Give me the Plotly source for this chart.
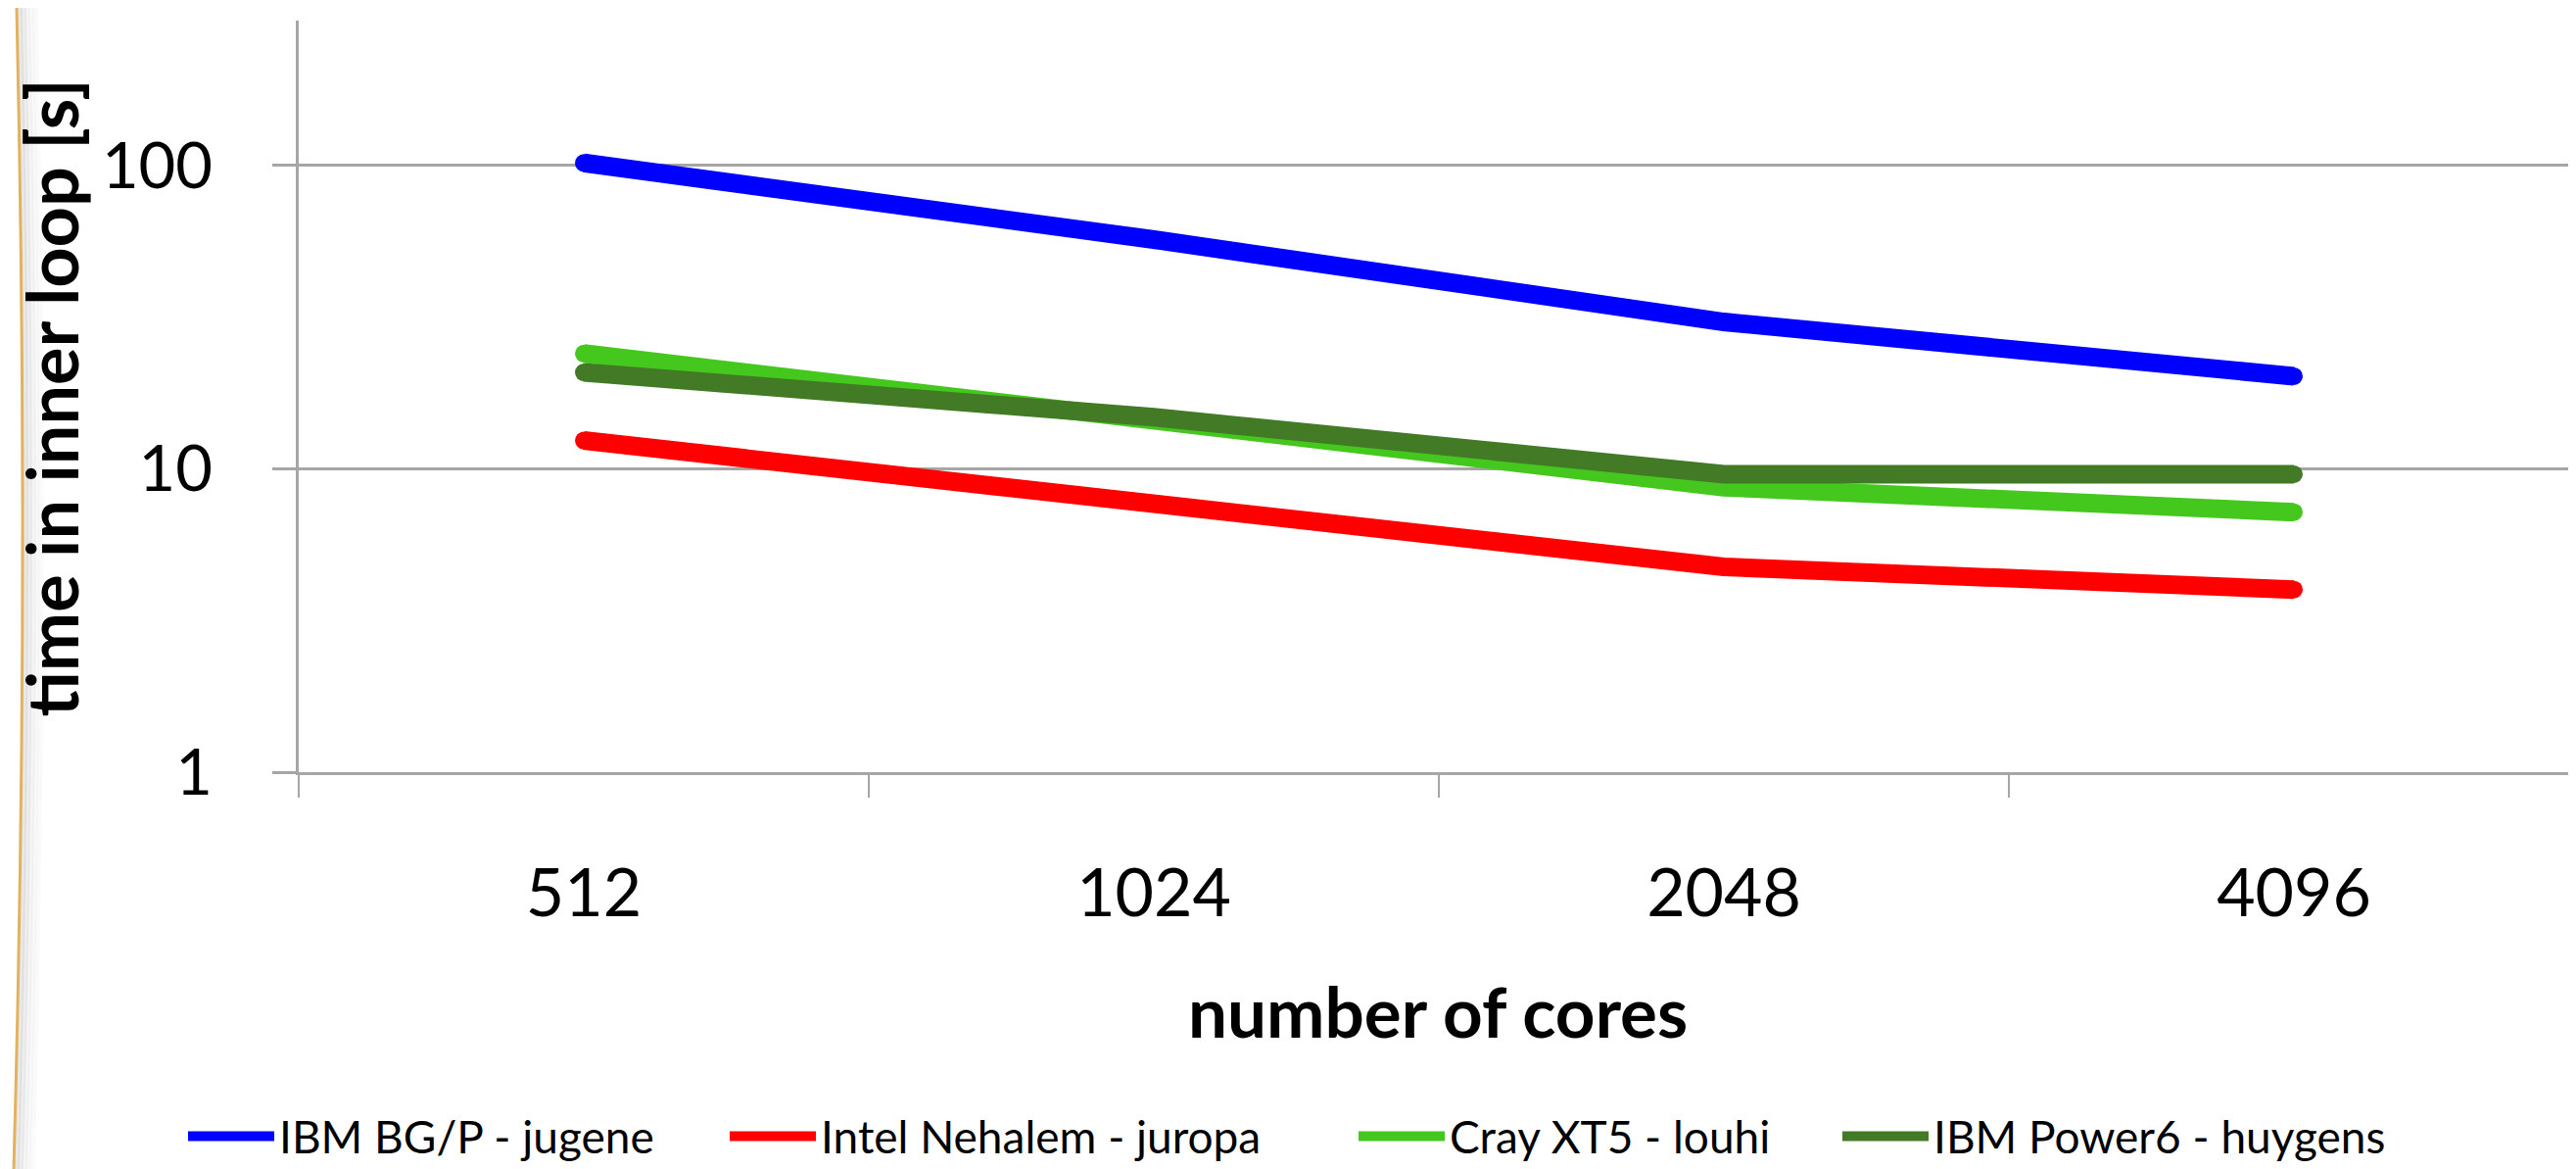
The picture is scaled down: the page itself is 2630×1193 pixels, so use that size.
import plotly.graph_objects as go

# ---- data ----
cores = ["512", "1024", "2048", "4096"]
series_names = ["IBM BG/P - jugene", "Intel Nehalem - juropa", "Cray XT5 - louhi", "IBM Power6 - huygens"]
jugene = [102.0, 57.0, 30.5, 20.2]
juropa = [12.4, 7.8, 4.75, 4.0]
louhi = [24.0, 14.3, 8.7, 7.2]
huygens = [20.8, 14.8, 9.6, 9.6]
y_ticks = [1, 10, 100]

colors = ["#0000FF", "#FF0000", "#44C81D", "#427A26"]
values = [jugene, juropa, louhi, huygens]

W, H = 2630, 1193
L, R, T, B = 297, 2625, 13, 785
PW, PH = R - L, B - T


def px(x):
    return (x - L) / PW


def py(y):
    return (B - y) / PH


FONT = "Lato, 'Open Sans', sans-serif"
LW = 19
legend_ids = ["legend", "legend2", "legend3", "legend4"]
legend_starts = [191, 744, 1386, 1880]   # pixel x where each legend sample begins

fig = go.Figure()
for name, vals, col, lid in zip(series_names, values, colors, legend_ids):
    fig.add_trace(go.Scatter(
        x=cores, y=vals, mode="lines", name=name, legendgroup=name, legend=lid,
        line=dict(color=col, width=LW),
    ))
    # round caps at the ends of each line
    fig.add_trace(go.Scatter(
        x=[cores[0], cores[-1]], y=[vals[0], vals[-1]], mode="markers", name=name,
        legendgroup=name, showlegend=False,
        marker=dict(color=col, size=LW - 1, line=dict(width=0)), hoverinfo="skip",
    ))

grid_col = "#A6A6A6"
fig.update_xaxes(
    type="category", range=[-0.5, 3.5],
    showline=True, linecolor=grid_col, linewidth=3,
    showgrid=False, zeroline=False,
    ticks="outside", tickson="boundaries", ticklen=23, tickwidth=2, tickcolor=grid_col,
    tickfont=dict(family=FONT, size=68, color="#000"),
    ticklabelstandoff=62,
)
fig.update_yaxes(
    type="log", range=[0, 2.478],
    tickvals=y_ticks, ticktext=[str(v) for v in y_ticks],
    showline=True, linecolor=grid_col, linewidth=3,
    showgrid=True, gridcolor=grid_col, gridwidth=3,
    ticks="outside", ticklen=24, tickwidth=3, tickcolor=grid_col,
    tickfont=dict(family=FONT, size=65, color="#000"),
    ticklabelstandoff=48,
)

annotations = [
    dict(text="<b>number of cores</b>", x=px(1460), y=py(1030), xref="paper", yref="paper",
         showarrow=False, xanchor="center", yanchor="middle",
         font=dict(family=FONT, size=71, color="#000")),
    dict(text="<b>time in inner loop [s]</b>", x=px(44), y=py(401), xref="paper", yref="paper",
         showarrow=False, xanchor="center", yanchor="middle", textangle=-90,
         font=dict(family=FONT, size=72, color="#000")),
]


def curve(off):
    x0, xm, x1 = 9 + off, 15 + off, 6 + off
    cx = 2 * xm - (x0 + x1) / 2
    return f"M {px(x0)},{py(0)} Q {px(cx)},{py(H / 2)} {px(x1)},{py(H)}"


shapes = []
for off, op in [(3, 0.16), (7, 0.12), (11, 0.08), (15, 0.05), (19, 0.03)]:
    shapes.append(dict(type="path", path=curve(off), xref="paper", yref="paper",
                       line=dict(color=f"rgba(110,110,110,{op})", width=5), layer="below"))
shapes.append(dict(type="path", path=curve(0), xref="paper", yref="paper",
                   line=dict(color="#E2B25E", width=3), layer="above"))

legend_common = dict(orientation="h", yanchor="middle", xanchor="left",
                     font=dict(family=FONT, size=46, color="#000"),
                     bgcolor="rgba(0,0,0,0)", itemwidth=88, borderwidth=0)
legends = {}
for lid, xs in zip(legend_ids, legend_starts):
    legends[lid] = dict(legend_common, x=px(xs - 12), y=py(1159))

fig.update_layout(
    width=W, height=H, autosize=False,
    margin=dict(l=L, r=W - R, t=T, b=H - B, pad=0),
    paper_bgcolor="white", plot_bgcolor="white",
    showlegend=True,
    annotations=annotations,
    shapes=shapes,
    **legends,
)

fig.write_html("out.html")
